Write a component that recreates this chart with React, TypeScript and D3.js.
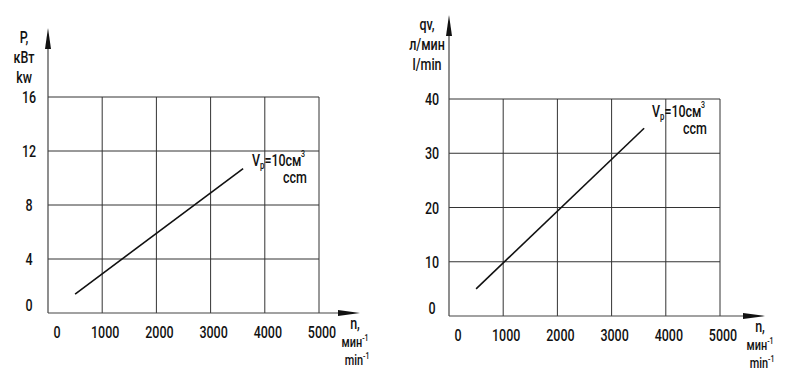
import React from "react";
import * as d3 from "d3";

const speedTicks = [0, 1000, 2000, 3000, 4000, 5000];
const powerTicks = [0, 4, 8, 12, 16];
const flowTicks = [0, 10, 20, 30, 40];

const speed = [500, 3600];
const power = [1.4, 10.7];
const flow = [5, 34.6];

const FONT = "Roboto, 'Noto Sans', sans-serif";
const SX = 0.78; // narrow drafting font look

// condensed text helper
const T = ({ x, y, size = 16, anchor = "middle", children }: any) => (
  <text
    transform={`translate(${x},${y}) scale(${SX},1)`}
    textAnchor={anchor}
    fontSize={size}
    fontWeight={500}
    fill="#111"
  >
    {children}
  </text>
);

type PanelProps = {
  x0: number;
  x1: number;
  yTop: number;
  yBottom: number;
  yMax: number;
  yTicks: number[];
  values: number[];
  arrowTop: number;
  arrowRight: number;
  yLabels: string[];
  yLabelX: number;
  tickLabelX: number;
  noteX: number;
  noteY: number;
};

const Panel = (p: PanelProps) => {
  const xScale = d3.scaleLinear().domain([0, 5000]).range([p.x0, p.x1]);
  const yScale = d3.scaleLinear().domain([0, p.yMax]).range([p.yBottom, p.yTop]);
  const line = d3
    .line<number>()
    .x((d) => xScale(d))
    .y((d, i) => yScale(p.values[i]));

  const bottom = yScale(0);
  const left = xScale(0);
  const right = xScale(5000);
  const top = yScale(p.yMax);

  return (
    <g fontFamily={FONT}>
      {/* grid */}
      {p.yTicks
        .filter((t) => t > 0)
        .map((t) => (
          <line key={"h" + t} x1={left} x2={right} y1={yScale(t)} y2={yScale(t)} stroke="#333" strokeWidth={1} />
        ))}
      {speedTicks
        .filter((t) => t > 0)
        .map((t) => (
          <line key={"v" + t} x1={xScale(t)} x2={xScale(t)} y1={bottom} y2={top} stroke="#333" strokeWidth={1} />
        ))}

      {/* axes with arrows */}
      <line x1={left} x2={left} y1={bottom} y2={p.arrowTop + 10} stroke="#444" strokeWidth={1.2} />
      <path d={`M${left},${p.arrowTop} L${left - 3},${p.arrowTop + 21} L${left + 3},${p.arrowTop + 21} Z`} fill="#111" />
      <line x1={left} x2={p.arrowRight - 10} y1={bottom} y2={bottom} stroke="#444" strokeWidth={1.2} />
      <path d={`M${p.arrowRight},${bottom} L${p.arrowRight - 22},${bottom - 3} L${p.arrowRight - 22},${bottom + 3} Z`} fill="#111" />

      {/* data line */}
      <path d={line(speed) || ""} fill="none" stroke="#111" strokeWidth={1.6} />

      {/* x tick labels */}
      {speedTicks.map((t) => (
        <T key={"xt" + t} x={xScale(t) + (t === 0 ? 9 : 3)} y={bottom + 25}>
          {t}
        </T>
      ))}

      {/* y tick labels */}
      {p.yTicks.map((t) => (
        <T key={"yt" + t} x={p.tickLabelX} y={yScale(t) + 6 - (t === 0 ? 8 : 0)}>
          {t}
        </T>
      ))}

      {/* y axis title */}
      {p.yLabels.map((s, i) => (
        <T key={"yl" + i} x={p.yLabelX} y={p.arrowTop + 15 + i * 20}>
          {s}
        </T>
      ))}

      {/* x axis title */}
      <T x={p.arrowRight - 5} y={bottom + 16}>
        n,
      </T>
      <T x={p.arrowRight - 5} y={bottom + 34} size={14}>
        мин<tspan fontSize={9} dy={-6}>-1</tspan>
      </T>
      <T x={p.arrowRight - 3} y={bottom + 52} size={14}>
        min<tspan fontSize={9} dy={-6}>-1</tspan>
      </T>

      {/* annotation */}
      <T x={p.noteX} y={p.noteY} anchor="start">
        V<tspan fontSize={10} dy={3}>p</tspan>
        <tspan dy={-3}>=10см</tspan>
      </T>
      <T x={p.noteX + 49} y={p.noteY - 9} size={9} anchor="start">
        3
      </T>
      <T x={p.noteX + 31} y={p.noteY + 17} anchor="start">
        ccm
      </T>
    </g>
  );
};

const App = () => {
  return (
    <svg width={800} height={372} style={{ position: "absolute", left: 0, top: 0, background: "#fff" }}>
      <rect x={0} y={0} width={800} height={372} fill="#fff" />
      <Panel
        x0={48}
        x1={319}
        yTop={97}
        yBottom={313}
        yMax={16}
        yTicks={powerTicks}
        values={power}
        arrowTop={28}
        arrowRight={360}
        yLabels={["P,", "кВт", "kw"]}
        yLabelX={24}
        tickLabelX={29}
        noteX={252}
        noteY={166}
      />
      <Panel
        x0={449}
        x1={720}
        yTop={99}
        yBottom={316}
        yMax={40}
        yTicks={flowTicks}
        values={flow}
        arrowTop={15}
        arrowRight={765}
        yLabels={["qv,", "л/мин", "l/min"]}
        yLabelX={427}
        tickLabelX={432}
        noteX={652}
        noteY={117}
      />
    </svg>
  );
};

export default App;
